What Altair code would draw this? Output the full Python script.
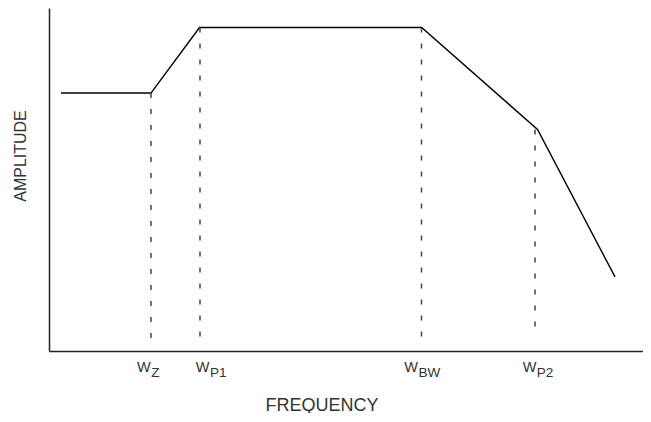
import altair as alt
import pandas as pd

# Response curve (schematic units, 0-100 on both axes)
freq = [2.02, 17.17, 25.34, 62.74, 82.24, 95.29]
amp = [75.2, 75.2, 94.3, 94.3, 64.6, 21.6]

# Dashed marker lines at the corner frequencies
mark_x = [17.17, 25.42, 62.71, 81.82]
mark_top = [75.2, 94.3, 94.3, 64.6]
mark_bottom = [2.6, 2.6, 3.2, 5.2]

# Corner frequency labels (W + subscript)
label_x = [17.12, 27.02, 62.12, 82.04]
label_main = ["W", "W", "W", "W"]
label_sub = ["Z", "P1", "BW", "P2"]

x_title = ["FREQUENCY"]
y_title = ["AMPLITUDE"]

FONT = "Liberation Sans"
TXT = "#333333"

df_line = pd.DataFrame({"freq": freq, "amp": amp})
df_marks = pd.DataFrame({"x": mark_x, "top": mark_top, "bottom": mark_bottom})
df_labels = pd.DataFrame({"x": label_x, "main": label_main, "sub": label_sub})

xs = alt.Scale(domain=[0, 100], nice=False, zero=False)
ys = alt.Scale(domain=[0, 100], nice=False, zero=False)
ax = alt.Axis(labels=False, ticks=False, grid=False, title=None,
              domainColor="#222222", domainWidth=1.5)

line = alt.Chart(df_line).mark_line(color="black", strokeWidth=1.4).encode(
    x=alt.X("freq:Q", scale=xs, axis=ax),
    y=alt.Y("amp:Q", scale=ys, axis=ax),
)

marks = alt.Chart(df_marks).mark_rule(
    color="#444444", strokeWidth=1.5, strokeDash=[5, 11]
).encode(
    x=alt.X("x:Q", scale=xs),
    y=alt.Y("top:Q", scale=ys),
    y2="bottom:Q",
)

lab_main = alt.Chart(df_labels).mark_text(
    align="right", baseline="alphabetic", fontSize=14.5, font=FONT, color=TXT
).encode(x=alt.X("x:Q", scale=xs), y=alt.value(363.7), text="main:N")

lab_sub = alt.Chart(df_labels).mark_text(
    align="left", baseline="alphabetic", fontSize=13.5, font=FONT, color=TXT, dx=0.5
).encode(x=alt.X("x:Q", scale=xs), y=alt.value(368.7), text="sub:N")

xt = alt.Chart(pd.DataFrame({"t": x_title})).mark_text(
    align="center", baseline="alphabetic", fontSize=18, font=FONT, color=TXT
).encode(x=alt.value(273), y=alt.value(402.5), text="t:N")

yt = alt.Chart(pd.DataFrame({"t": y_title})).mark_text(
    align="center", baseline="alphabetic", fontSize=16, font=FONT, color=TXT, angle=270
).encode(x=alt.value(-23), y=alt.value(148), text="t:N")

chart = alt.layer(line, marks, lab_main, lab_sub, xt, yt).properties(
    width=594,
    height=343,
    autosize=alt.AutoSizeParams(type="none"),
    padding={"left": 41, "top": 0, "right": 0, "bottom": 62},
).configure_view(stroke=None)

chart.save("out.html", embed_options={"renderer": "svg", "actions": False})
